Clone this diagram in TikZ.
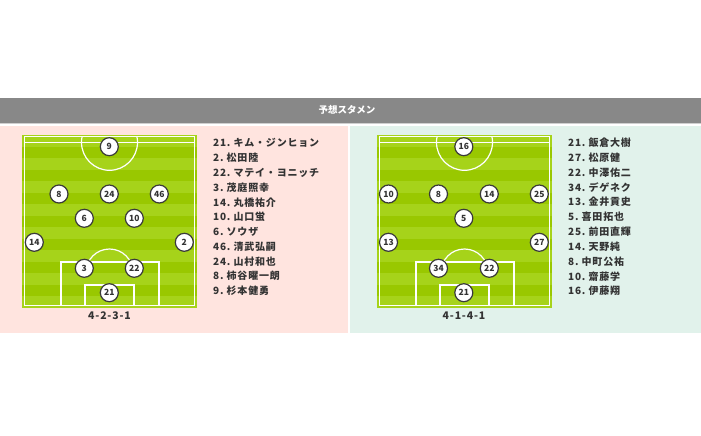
\documentclass[tikz,border=0pt]{standalone}
\usepackage{fontspec}
\setmainfont{Noto Sans CJK JP}
\newfontfamily\spacedfont[LetterSpace=8]{Noto Sans CJK JP}
\usepackage{xcolor}
\usepackage{tikz}
\usetikzlibrary{positioning}
\definecolor{headgray}{HTML}{888888}
\definecolor{headline}{HTML}{CFCFCF}
\definecolor{homepink}{HTML}{FFE4DF}
\definecolor{awaymint}{HTML}{E1F2EB}
\definecolor{pitchdark}{HTML}{99C800}
\definecolor{pitchlight}{HTML}{A6D31A}
\definecolor{circdark}{HTML}{3A3A3A}
\definecolor{textdark}{HTML}{333333}
\tikzstyle{player} = [circle, draw=circdark, line width=1.2pt, fill=white, minimum size=18pt, inner sep=0pt, font=\fontsize{8.5}{8.5}\selectfont\bfseries, text=textdark]
\tikzstyle{listitem} = [anchor=west, inner sep=0pt, font=\spacedfont\fontsize{10}{12}\selectfont\bfseries, text=textdark]
\tikzstyle{formation} = [font=\spacedfont\fontsize{10.5}{12}\selectfont\bfseries, text=textdark]
\tikzstyle{pitchline} = [draw=white, line width=1.2pt]
\tikzstyle{title} = [font=\fontsize{9.5}{11}\selectfont\bfseries, text=white]

\begin{document}
\begin{tikzpicture}[x=1pt, y=-1pt]
            \useasboundingbox (0,0) rectangle (701,436);
            % Header
            \fill[headgray] (0,98) rectangle (701,122.5);
            \fill[headline] (0,122.5) rectangle (701,123.5);
            \node [title] (title) at (347,110) {予想スタメン};
            % Panels
            \fill[homepink] (0,125.5) rectangle (348,333);
            \fill[awaymint] (350,125.5) rectangle (701,333);
    
            % Pitches
            \foreach \dx in {0,355} {
                \begin{scope}[xshift=\dx pt]
                    \fill[pitchdark] (22,135) rectangle (197,308);
                    \begin{scope}
                        \clip (22,135) rectangle (197,308);
                        \foreach \k in {0,2,...,14}
                            \fill[pitchlight] (22,135+\k*11.5) rectangle (197,146.5+\k*11.5);
                    \end{scope}
                    \draw[pitchline] (24.5,136.7) rectangle (194.5,305.5);
                    \draw[pitchline] (24.5,142.3) -- (194.5,142.3);
                    \begin{scope}
                        \clip (24.5,136.7) rectangle (194.5,305.5);
                        \draw[pitchline] (109.5,142.3) circle[radius=28];
                    \end{scope}
                    \draw[pitchline] (61,305.5) rectangle (159,262);
                    \draw[pitchline] (85,305.5) rectangle (134,285);
                    \begin{scope}
                        \clip (0,0) rectangle (701,262);
                        \draw[pitchline] (109.5,272.5) circle[radius=23.5];
                    \end{scope}
                \end{scope}
            }
    
            % Home players (4-2-3-1)
            \node [player] (l9) at (109.3,146.7) {9};
            \node [player] (l8) at (59,194) {8};
            \node [player] (l24) at (109.3,194) {24};
            \node [player] (l46) at (159.3,194) {46};
            \node [player] (l6) at (84.3,218.3) {6};
            \node [player] (l10) at (134.3,218.3) {10};
            \node [player] (l14) at (34.3,242.3) {14};
            \node [player] (l2) at (184.3,242.3) {2};
            \node [player] (l3) at (84.3,268.3) {3};
            \node [player] (l22) at (134.3,268.3) {22};
            \node [player] (l21) at (109.3,292.7) {21};
            \node [formation] (lform) at (109.5,316) {4-2-3-1};
    
            % Away players (4-1-4-1)
            \node [player] (r16) at (463.8,146.7) {16};
            \node [player] (r10) at (388.5,194) {10};
            \node [player] (r8) at (438.5,194) {8};
            \node [player] (r14) at (489.3,194) {14};
            \node [player] (r25) at (539.3,194) {25};
            \node [player] (r5) at (463.8,218.3) {5};
            \node [player] (r13) at (388.5,242.3) {13};
            \node [player] (r27) at (539.3,242.3) {27};
            \node [player] (r34) at (438.5,268.3) {34};
            \node [player] (r22) at (489.3,268.3) {22};
            \node [player] (r21) at (463.8,292.7) {21};
            \node [formation] (rform) at (464,316) {4-1-4-1};
    
            % Line-ups
            \foreach \name [count=\i] in {21.\ キム・ジンヒョン, 2.\ 松田陸, 22.\ マテイ・ヨニッチ, 3.\ 茂庭照幸, 14.\ 丸橋祐介, 10.\ 山口蛍, 6.\ ソウザ, 46.\ 清武弘嗣, 24.\ 山村和也, 8.\ 柿谷曜一朗, 9.\ 杉本健勇}
                \node [listitem] (lname\i) at (213,128.2+\i*14.8) {\name};
            \foreach \name [count=\i] in {21.\ 飯倉大樹, 27.\ 松原健, 22.\ 中澤佑二, 34.\ デゲネク, 13.\ 金井貢史, 5.\ 喜田拓也, 25.\ 前田直輝, 14.\ 天野純, 8.\ 中町公祐, 10.\ 齋藤学, 16.\ 伊藤翔}
                \node [listitem] (rname\i) at (568,128.2+\i*14.8) {\name};
        \end{tikzpicture}
\end{document}
